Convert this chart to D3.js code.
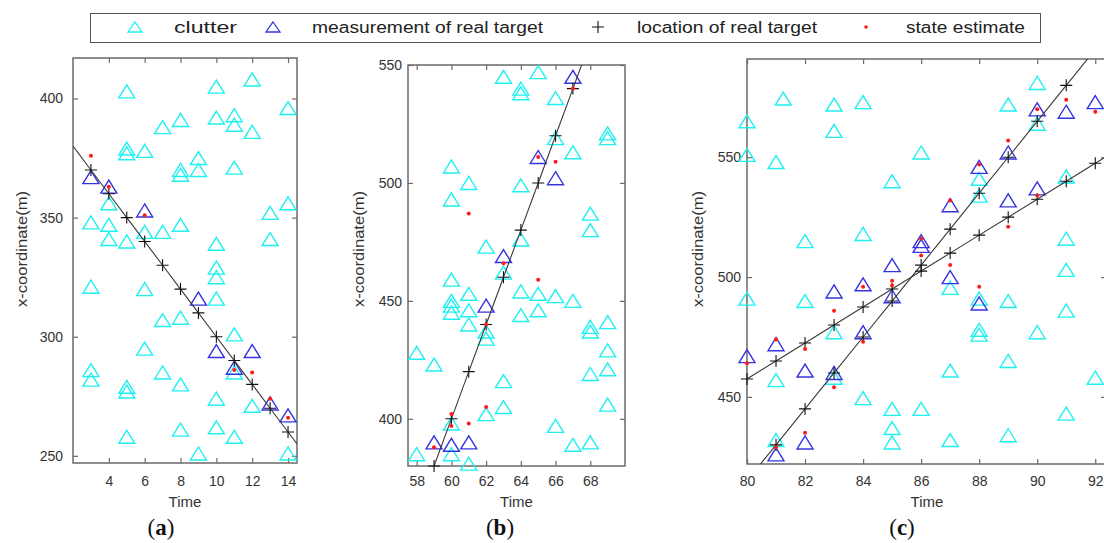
<!DOCTYPE html>
<html>
<head>
<meta charset="utf-8">
<script src="https://cdn.jsdelivr.net/npm/d3@7"></script>
<style>
  html, body { margin: 0; padding: 0; background: #fff; }
  svg { display: block; font-family: "Liberation Sans", Arial, sans-serif; }
</style>
</head>
<body>
<script>
  // ---- panel (a) ----
  const clutterA = [
    [3,348],[3,321],[3,286],[3,282],
    [4,356],[4,347],[4,341],
    [5,403],[5,379],[5,377],[5,340],[5,279],[5,277],[5,258],
    [6,378],[6,344],[6,320],[6,295],
    [7,388],[7,344],[7,307],[7,285],
    [8,391],[8,370],[8,368],[8,347],[8,308],[8,280],[8,261],
    [9,375],[9,370],[9,251],
    [10,405],[10,392],[10,339],[10,329],[10,325],[10,316],[10,274],[10,262],
    [11,393],[11,389],[11,371],[11,301],[11,285],[11,258],
    [12,408],[12,386],[12,271],
    [13,352],[13,341],
    [14,396],[14,356],[14,251]
  ];
  const measureA = [[3,367],[4,363],[6,353],[9,316],[10,294],[11,287],[12,294],[13,272],[14,267]];
  const truthTimeA = [3,4,5,6,7,8,9,10,11,12,13,14];
  const truthA = [370,360,350,340,330,320,310,300,290,280,270,260];
  const estimateA = [[3,376],[4,363],[6,351],[11,286],[12,285],[13,274],[14,266]];

  // ---- panel (b) ----
  const clutterB = [
    [58,428],[58,385],
    [59,423],
    [60,507],[60,493],[60,459],[60,450],[60,448],[60,445],[60,398],[60,385],
    [61,500],[61,453],[61,446],[61,440],[61,381],
    [62,473],[62,437],[62,434],[62,402],
    [63,545],[63,462],[63,416],[63,405],
    [64,540],[64,538],[64,499],[64,476],[64,454],[64,444],
    [65,547],[65,453],[65,446],
    [66,536],[66,519],[66,452],[66,397],
    [67,513],[67,450],[67,389],
    [68,487],[68,480],[68,439],[68,437],[68,419],[68,390],
    [69,521],[69,519],[69,441],[69,429],[69,421],[69,406]
  ];
  const measureB = [[59,390],[60,389],[61,390],[62,448],[63,469],[65,511],[66,502],[67,545]];
  const truthTimeB = [59,60,61,62,63,64,65,66,67];
  const truthB = [380,400,420,440,460,480,500,520,540];
  const estimateB = [[59,388],[60,402],[60,397],[61,398],[61,487],[62,440],[62,405],[63,466],
    [65,511],[65,459],[66,509],[67,540]];

  // ---- panel (c) ----
  const clutterC = [
    [80,565],[80,551],[80,491],
    [81.25,574.5],[81,548],[81,457],[81,432],
    [82,515],[82,490],
    [83,572],[83,561],[83,477],[83,458],
    [84,573],[84,518],[84,449.5],
    [85,540],[85,445],[85,437],[85,431],
    [86,552],[86,445],
    [87,495.5],[87,461],[87,432],
    [88,541],[88,534],[88,491],[88,478],[88,476],
    [89,572],[89,490],[89,465],[89,434],
    [90,581],[90,564],[90,477],
    [91,542],[91,516],[91,503],[91,486],[91,443],
    [92,458]
  ];
  const measureC = [[80,467],[81,472],[81,426],[82,461],[82,431],[83,494],[83,460],[84,497],[84,477],
    [85,505],[85,492],[86,515],[86,513],[87,530],[87,500],[88,546],[88,489],[89,552],[89,532],
    [90,570],[90,537],[91,569],[92,573]];
  const truthTimeC1 = [81,82,83,84,85,86,87,88,89,90,91];
  const truthC1 = [430,445,460,475,490,505,520,535,550,565,580];
  const truthTimeC2 = [80,81,82,83,84,85,86,87,88,89,90,91,92];
  const truthC2 = [457.5,465,472.5,480,487.5,495,502.5,510,517.5,525,532.5,540,547.5];
  const estimateC = [[80,464],[81,474],[81,429],[82,470],[82,435],[83,486],[83,454],[84,496],[84,473],
    [85,498.5],[85,496.5],[86,516],[86,509],[87,532],[87,505],[88,547],[88,496],[89,557],[89,521],
    [90,570],[90,534],[91,574],[92,569]];

  const legendLabels = ['clutter', 'measurement of real target', 'location of real target', 'state estimate'];

  const cyan = '#1ff0f0';
  const blue = '#3434e0';
  const red = '#ff1a1a';
  const axisColor = '#6a6a6a';

  const W = 1104, H = 543;
  const svg = d3.select('body').append('svg').attr('width', W).attr('height', H);

  const triPath = (w, h) => `M0,${-h / 2}L${w / 2},${h / 2}L${-w / 2},${h / 2}Z`;
  const plusPath = (s) => `M${-s},0H${s}M0,${-s}V${s}`;

  const panels = [
    {
      id: 'a', left: 73, right: 297, top: 58, bottom: 463,
      xDomain: [2, 14.5], yDomain: [247, 417],
      xTicks: [4, 6, 8, 10, 12, 14], yTicks: [250, 300, 350, 400],
      yPad: 10, yLabelX: 27, tag: 'a', tagX: 161,
      clutter: clutterA, measure: measureA, estimate: estimateA,
      tracks: [[truthTimeA, truthA]]
    },
    {
      id: 'b', left: 408, right: 625, top: 65, bottom: 466,
      xDomain: [57.5, 70], yDomain: [380, 550],
      xTicks: [58, 60, 62, 64, 66, 68], yTicks: [400, 450, 500, 550],
      yPad: 6, yLabelX: 364, tag: 'b', tagX: 500,
      clutter: clutterB, measure: measureB, estimate: estimateB,
      tracks: [[truthTimeB, truthB]]
    },
    {
      id: 'c', left: 747, right: 1106, top: 59, bottom: 464,
      xDomain: [80, 92.37], yDomain: [422, 591],
      xTicks: [80, 82, 84, 86, 88, 90, 92], yTicks: [450, 500, 550],
      yPad: 6, yLabelX: 703, tag: 'c', tagX: 902,
      clutter: clutterC, measure: measureC, estimate: estimateC,
      tracks: [[truthTimeC1, truthC1], [truthTimeC2, truthC2]]
    }
  ];

  panels.forEach((p) => {
    const x = d3.scaleLinear().domain(p.xDomain).range([p.left, p.right]);
    const y = d3.scaleLinear().domain(p.yDomain).range([p.bottom, p.top]);
    const g = svg.append('g').attr('class', 'panel-' + p.id);

    g.append('clipPath').attr('id', 'clip-' + p.id)
      .append('rect')
      .attr('x', p.left).attr('y', p.top)
      .attr('width', p.right - p.left).attr('height', p.bottom - p.top);

    // axes, ticks pointing inward on all four sides
    const axisStyle = (sel) => {
      sel.select('.domain').remove();
      sel.selectAll('line').attr('stroke', axisColor).attr('stroke-width', 1.2);
      sel.selectAll('text').attr('fill', '#333').style('font-size', '14px')
        .style('font-family', '"Liberation Sans", Arial, sans-serif');
    };
    g.append('g').attr('transform', `translate(0,${p.bottom})`)
      .call(d3.axisBottom(x).tickValues(p.xTicks).tickSize(-5).tickSizeOuter(0))
      .call(axisStyle)
      .call((s) => s.selectAll('text').attr('dy', null).attr('y', 486 - p.bottom));
    g.append('g').attr('transform', `translate(0,${p.top})`)
      .call(d3.axisTop(x).tickValues(p.xTicks).tickSize(-5).tickFormat(''))
      .call(axisStyle);
    g.append('g').attr('transform', `translate(${p.left},0)`)
      .call(d3.axisLeft(y).tickValues(p.yTicks).tickSize(-5).tickPadding(p.yPad))
      .call(axisStyle)
      .call((s) => s.selectAll('text').attr('x', -p.yPad));
    g.append('g').attr('transform', `translate(${p.right},0)`)
      .call(d3.axisRight(y).tickValues(p.yTicks).tickSize(-5).tickFormat(''))
      .call(axisStyle);

    g.append('rect')
      .attr('x', p.left).attr('y', p.top)
      .attr('width', p.right - p.left).attr('height', p.bottom - p.top)
      .attr('fill', 'none').attr('stroke', axisColor).attr('stroke-width', 1.5);

    // clutter
    g.append('g').selectAll('path')
      .data(p.clutter)
      .join('path')
      .attr('d', triPath(16, 13))
      .attr('transform', (d) => `translate(${x(d[0])},${y(d[1])})`)
      .attr('fill', 'none').attr('stroke', cyan).attr('stroke-width', 1.4);

    // measurements of the real target
    g.append('g').selectAll('path')
      .data(p.measure)
      .join('path')
      .attr('d', triPath(16, 13))
      .attr('transform', (d) => `translate(${x(d[0])},${y(d[1])})`)
      .attr('fill', 'none').attr('stroke', blue).attr('stroke-width', 1.4);

    // true tracks: line reaches the box edge, markers only at true points
    p.tracks.forEach(([times, vals]) => {
      const pts = times.map((t, i) => [t, vals[i]]);
      const n = pts.length;
      const first = [2 * pts[0][0] - pts[1][0], 2 * pts[0][1] - pts[1][1]];
      const last = [2 * pts[n - 1][0] - pts[n - 2][0], 2 * pts[n - 1][1] - pts[n - 2][1]];
      const line = d3.line().x((d) => x(d[0])).y((d) => y(d[1]));
      g.append('path')
        .attr('clip-path', `url(#clip-${p.id})`)
        .attr('d', line([first, ...pts, last]))
        .attr('fill', 'none').attr('stroke', '#3a3a3a').attr('stroke-width', 1.1);
      g.append('g').selectAll('path')
        .data(pts)
        .join('path')
        .attr('d', plusPath(6))
        .attr('transform', (d) => `translate(${x(d[0])},${y(d[1])})`)
        .attr('stroke', '#111').attr('stroke-width', 1.1);
    });

    // state estimates
    g.append('g').selectAll('circle')
      .data(p.estimate)
      .join('circle')
      .attr('cx', (d) => x(d[0]))
      .attr('cy', (d) => y(d[1]))
      .attr('r', 2)
      .attr('fill', red);

    // labels
    g.append('text')
      .attr('x', (p.left + p.right) / 2 - (p.id === 'c' ? 0 : 0))
      .attr('y', 507)
      .attr('text-anchor', 'middle')
      .attr('fill', '#333')
      .style('font-size', '15px')
      .text('Time');

    g.append('text')
      .attr('transform', `translate(${p.yLabelX},249) rotate(-90)`)
      .attr('text-anchor', 'middle')
      .attr('fill', '#333')
      .style('font-size', '15px')
      .attr('textLength', 116)
      .attr('lengthAdjust', 'spacingAndGlyphs')
      .text('x-coordinate(m)');

    const tag = g.append('text')
      .attr('x', p.tagX).attr('y', 535)
      .attr('text-anchor', 'middle')
      .attr('fill', '#111')
      .style('font-family', '"Liberation Serif", "Times New Roman", serif')
      .style('font-size', '23px');
    tag.append('tspan').text('(');
    tag.append('tspan').style('font-weight', 'bold').text(p.tag);
    tag.append('tspan').text(')');
  });

  // "Time" label of panel (c) sits under the visible part of the axis
  svg.select('.panel-c').selectAll('text')
    .filter(function () { return d3.select(this).text() === 'Time'; })
    .attr('x', 927);

  // legend
  const legend = svg.append('g').attr('class', 'legend');
  legend.append('rect')
    .attr('x', 90.5).attr('y', 13.5).attr('width', 950).attr('height', 29)
    .attr('fill', '#fff').attr('stroke', '#555').attr('stroke-width', 1);

  const legendItems = [
    { sx: 135, tx: 174, tw: 63, kind: 'clutter' },
    { sx: 273, tx: 312, tw: 231, kind: 'measure' },
    { sx: 598, tx: 637, tw: 180, kind: 'truth' },
    { sx: 866, tx: 906, tw: 119, kind: 'estimate' }
  ];
  legendItems.forEach((it, i) => {
    const cy = 27;
    if (it.kind === 'clutter' || it.kind === 'measure') {
      legend.append('path')
        .attr('d', triPath(14, 10))
        .attr('transform', `translate(${it.sx},${cy})`)
        .attr('fill', 'none')
        .attr('stroke', it.kind === 'clutter' ? cyan : blue)
        .attr('stroke-width', 1.3);
    } else if (it.kind === 'truth') {
      legend.append('path')
        .attr('d', plusPath(6))
        .attr('transform', `translate(${it.sx},${cy})`)
        .attr('stroke', '#111').attr('stroke-width', 1.1);
    } else {
      legend.append('circle')
        .attr('cx', it.sx).attr('cy', cy).attr('r', 1.8).attr('fill', red);
    }
    legend.append('text')
      .attr('x', it.tx).attr('y', 33)
      .attr('fill', '#222')
      .style('font-size', '16px')
      .attr('textLength', it.tw)
      .attr('lengthAdjust', 'spacingAndGlyphs')
      .text(legendLabels[i]);
  });
</script>
</body>
</html>
